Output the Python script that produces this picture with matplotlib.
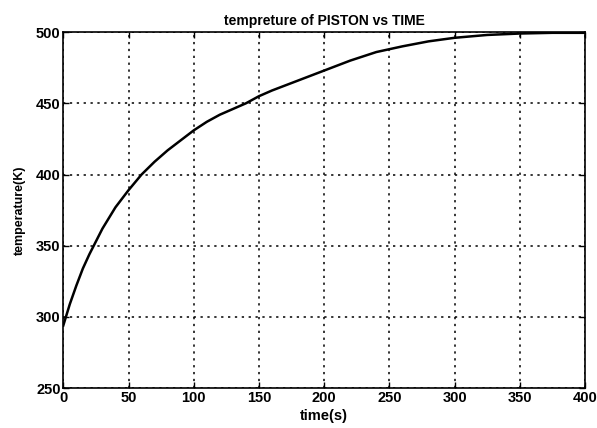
import matplotlib
matplotlib.use("Agg")
from matplotlib import pyplot as plt

# temperature of the piston
time_s = [0, 5, 10, 15, 20, 30, 40, 50, 60, 70, 80, 90, 100, 110, 120, 130,
          140, 150, 160, 180, 200, 220, 240, 260, 280, 300, 325, 350, 375, 400]
temp_K = [294, 309, 322, 334, 344, 362, 377, 389, 400, 409, 417, 424, 431, 437,
          442, 446, 450, 455, 459, 466, 473, 480, 486, 490, 493.5, 496, 498,
          499, 499.5, 499.5]

x_ticks = [0, 50, 100, 150, 200, 250, 300, 350, 400]
y_ticks = [250, 300, 350, 400, 450, 500]

plt.rcParams['font.family'] = ['Liberation Sans', 'DejaVu Sans']

fig = plt.figure(figsize=(5.97, 4.28), dpi=100)
ax = fig.add_axes([0.106, 0.093, 0.874, 0.832])

ax.plot(time_s, temp_K, color='black', linewidth=1.8)

ax.set_xlim(0, 400)
ax.set_ylim(250, 500)
ax.set_xticks(x_ticks)
ax.set_yticks(y_ticks)
ax.grid(True, color='black', linestyle=(0, (1.5, 3)), linewidth=1.1)
ax.tick_params(direction='in', top=True, right=True, length=4, width=1,
               labelsize=10.5, pad=2)
for lbl in ax.get_xticklabels() + ax.get_yticklabels():
    lbl.set_fontweight('bold')
for sp in ax.spines.values():
    sp.set_linewidth(1.2)

ax.set_title("tempreture of PISTON vs TIME", fontsize=10, fontweight='bold', pad=5)
ax.set_xlabel("time(s)", fontsize=10.5, fontweight='bold', labelpad=3)
ax.set_ylabel("temperature(K)", fontsize=9, fontweight='bold', labelpad=7)

fig.savefig("out.png", dpi=100)
